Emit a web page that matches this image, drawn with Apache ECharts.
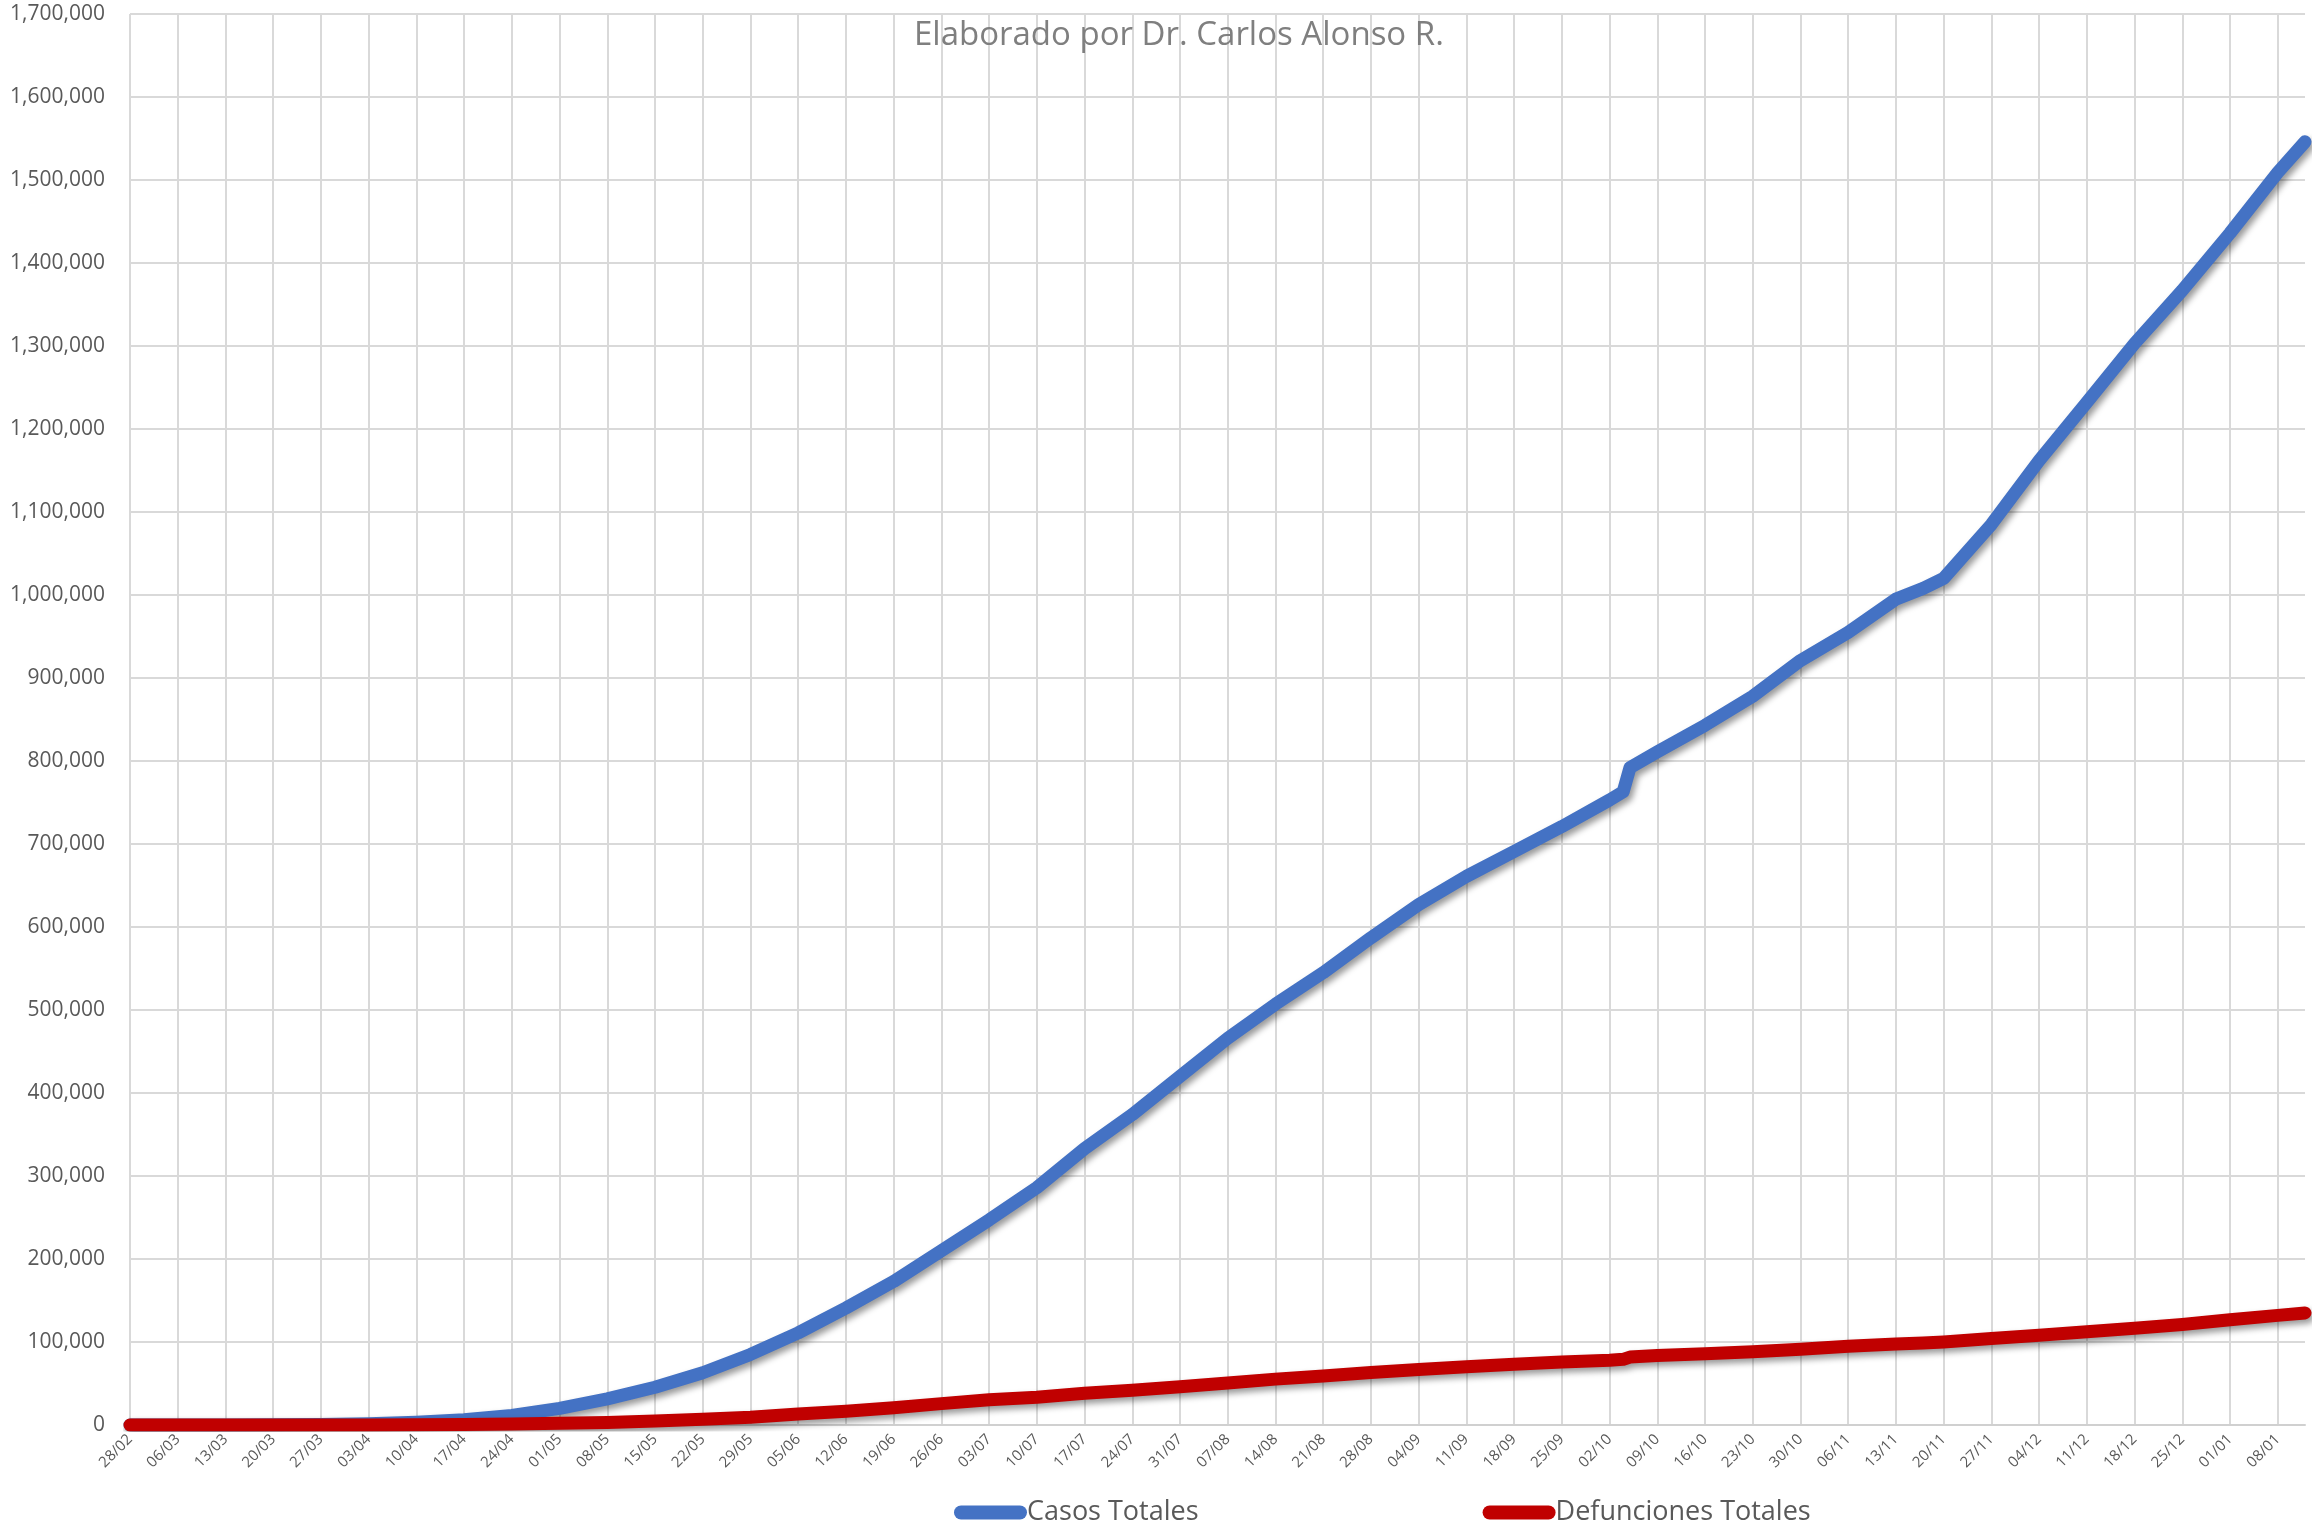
<!DOCTYPE html>
<html lang="es">
<head>
    <meta charset="UTF-8">
    <title>Casos y defunciones totales</title>
    <script src="https://cdn.jsdelivr.net/npm/echarts@6.0.0/dist/echarts.min.js"></script>
</head>
<body style="margin: 0; background-color: white;">
<div id="chart" style="width: 2313px; height: 1529px;"></div>

<script>
    // días transcurridos desde el 28/02 (eje x)
    const dias = [0, 7, 14, 21, 28, 35, 42, 49, 56, 63, 70, 77, 84, 91, 98, 105, 112, 119, 126, 133,
        140, 147, 154, 161, 168, 175, 182, 189, 196, 203, 210, 217, 219, 220, 224, 231, 238, 245,
        252, 259, 263, 266, 273, 280, 287, 294, 301, 308, 315, 319];

    // casos totales acumulados
    const casos = [0, 5, 26, 200, 600, 1500, 3400, 6300, 11600, 20000, 31500, 45500, 63000, 85000,
        111000, 141000, 173000, 210000, 247000, 286000, 333000, 374000, 420000, 466000, 507000,
        545000, 587000, 627000, 661000, 691000, 721000, 753000, 763000, 792000, 811000, 843000,
        878000, 921000, 955000, 995000, 1008000, 1020000, 1085000, 1162000, 1232000, 1303000,
        1367000, 1436000, 1509000, 1546000];

    // defunciones totales acumuladas
    const defunciones = [0, 0, 0, 2, 16, 79, 233, 546, 1069, 1972, 3160, 4767, 6989, 9415, 13170,
        16448, 20781, 25779, 30366, 33526, 38310, 41908, 46000, 50517, 55293, 59106, 63146, 66851,
        70183, 73258, 75844, 78078, 79088, 81877, 83642, 85704, 88312, 91289, 94808, 97624, 98861,
        100104, 104242, 108173, 112326, 116487, 121172, 126851, 132069, 135000];

    // etiquetas semanales del eje x
    const etiquetas = ['28/02', '06/03', '13/03', '20/03', '27/03', '03/04', '10/04', '17/04', '24/04',
        '01/05', '08/05', '15/05', '22/05', '29/05', '05/06', '12/06', '19/06', '26/06', '03/07',
        '10/07', '17/07', '24/07', '31/07', '07/08', '14/08', '21/08', '28/08', '04/09', '11/09',
        '18/09', '25/09', '02/10', '09/10', '16/10', '23/10', '30/10', '06/11', '13/11', '20/11',
        '27/11', '04/12', '11/12', '18/12', '25/12', '01/01', '08/01'];

    const fuente = "'Open Sans', 'Noto Sans', sans-serif";
    const gris = '#595959';

    const myChart = echarts.init(document.getElementById('chart'));

    const sombra = {
        shadowColor: 'rgba(0, 0, 0, 0.4)',
        shadowBlur: 6,
        shadowOffsetX: 3,
        shadowOffsetY: 4
    };

    const option = {
        animation: false,
        title: {
            text: 'Elaborado por Dr. Carlos Alonso R.',
            left: 909,
            top: 14,
            textStyle: {
                fontFamily: fuente,
                fontSize: 33,
                fontWeight: 'normal',
                color: '#7f7f7f'
            }
        },
        legend: {
            data: ['Casos Totales', 'Defunciones Totales'],
            left: 949,
            top: 1494,
            itemWidth: 73,
            itemHeight: 14,
            itemGap: 284,
            icon: 'path://M7,0 L66,0 A7,7 0 0 1 66,14 L7,14 A7,7 0 0 1 7,0 Z',
            textStyle: {
                fontFamily: fuente,
                fontSize: 27,
                color: gris,
                padding: [0, 0, 0, -5]
            }
        },
        grid: {
            left: 130,
            right: 8,
            top: 14,
            bottom: 104
        },
        xAxis: {
            type: 'value',
            min: 0,
            max: 319,
            interval: 7,
            axisLine: { lineStyle: { color: '#d0d0d0', width: 2 } },
            axisTick: { show: false },
            axisLabel: {
                rotate: 45,
                margin: 12,
                showMaxLabel: false,
                fontFamily: fuente,
                fontSize: 15,
                color: gris,
                formatter: function (value) {
                    return value % 7 === 0 ? etiquetas[value / 7] : '';
                }
            },
            splitLine: {
                show: true,
                showMaxLine: false,
                lineStyle: { color: '#d9d9d9', width: 2 }
            }
        },
        yAxis: {
            type: 'value',
            min: 0,
            max: 1700000,
            interval: 100000,
            axisLine: { show: false },
            axisTick: { show: false },
            axisLabel: {
                margin: 25,
                fontFamily: fuente,
                fontSize: 21,
                color: gris,
                formatter: function (value) {
                    return value.toLocaleString('en-US');
                }
            },
            splitLine: {
                lineStyle: { color: '#d9d9d9', width: 2 }
            }
        },
        series: [
            {
                name: 'Casos Totales',
                type: 'line',
                showSymbol: false,
                color: '#4472C4',
                lineStyle: Object.assign({ width: 13, cap: 'round', join: 'round' }, sombra),
                data: dias.map((d, i) => [d, casos[i]])
            },
            {
                name: 'Defunciones Totales',
                type: 'line',
                showSymbol: false,
                color: '#C00000',
                lineStyle: Object.assign({ width: 13, cap: 'round', join: 'round' }, sombra),
                data: dias.map((d, i) => [d, defunciones[i]])
            }
        ]
    };

    myChart.setOption(option);
</script>
</body>
</html>
